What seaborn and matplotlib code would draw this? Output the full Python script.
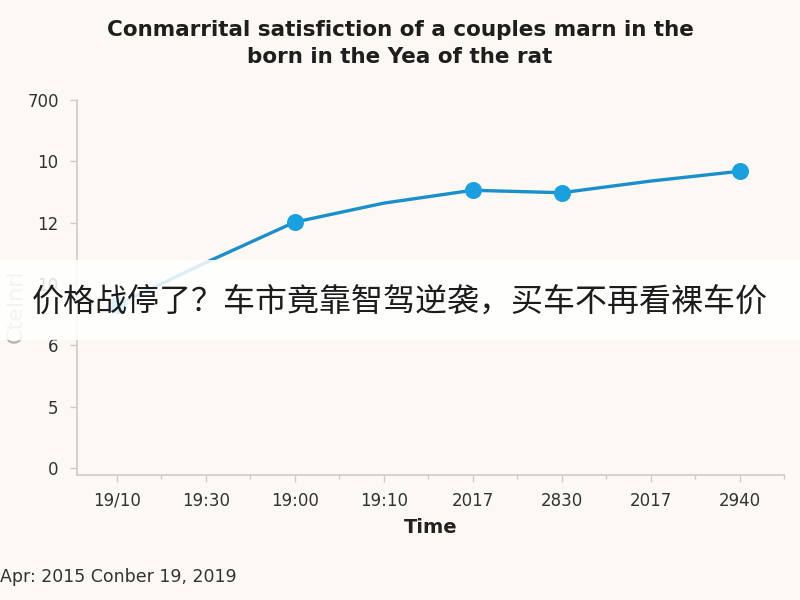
import matplotlib
matplotlib.use("Agg")
import matplotlib.pyplot as plt
import seaborn as sns
import pandas as pd
import numpy as np

# ---- data ----
x_labels = ['19/10', '19:30', '19:00', '19:10', '2017', '2830', '2017', '2940']
values = [2.66, 3.35, 4.01, 4.32, 4.53, 4.49, 4.68, 4.84]
has_marker = [True, False, True, False, True, True, False, True]
y_tick_labels = ['0', '5', '6', '10', '12', '10', '700']

title = "Conmarrital satisfiction of a couples marn in the\nborn in the Yea of the rat"
x_title = "Time"
y_title = "Ctelnrl"
footer = "Apr: 2015 Conber 19, 2019"
banner = "价格战停了？车市竟靠智驾逆袭，买车不再看裸车价"

sns.set_theme(style="white")
plt.rcParams['font.family'] = ['DejaVu Sans']

bg = '#fcf9f4'
line_c = '#1a8fcc'
mark_c = '#1aa0e0'

df = pd.DataFrame({'pos': np.arange(len(values)), 'value': values, 'marker': has_marker})

fig = plt.figure(figsize=(8, 6), dpi=100, facecolor=bg)
ax = fig.add_axes([0.096, 0.208, 0.884, 0.625])
ax.set_facecolor(bg)

sns.lineplot(data=df, x='pos', y='value', ax=ax, color=line_c, linewidth=2.4)
sns.scatterplot(data=df[df['marker']], x='pos', y='value', ax=ax, color=mark_c,
                s=150, edgecolor=mark_c, linewidth=0, zorder=5)

ax.set_xlim(-0.45, 7.4)
ax.set_ylim(-0.12, 6)
ax.set_xticks(np.arange(len(x_labels)))
ax.set_xticklabels(x_labels)
ax.set_xticks(np.arange(len(x_labels)) + 0.5, minor=True)
ax.set_yticks(np.arange(len(y_tick_labels)))
ax.set_yticklabels(y_tick_labels)

for s in ['top', 'right']:
    ax.spines[s].set_visible(False)
for s in ['left', 'bottom']:
    ax.spines[s].set_color('#cfcbc6')
    ax.spines[s].set_linewidth(1.2)

ax.tick_params(axis='both', which='major', length=5, width=1, color='#cfcbc6',
               labelsize=12, labelcolor='#333333', pad=8, left=True, bottom=True)
ax.tick_params(axis='x', which='minor', length=3, width=1, color='#cfcbc6', bottom=True)
ax.tick_params(axis='x', which='major', pad=7)

ax.set_xlabel(x_title, fontsize=14, fontweight='bold', color='#222222', labelpad=6)
ax.set_ylabel('')
fig.text(0.02, 0.49, y_title, rotation=90, fontsize=16, color='#b5b5b5',
         ha='center', va='center')

fig.text(0.5, 0.927, title, ha='center', va='center', fontsize=15.5,
         fontweight='bold', color='#1e1e1e', linespacing=1.45)
fig.text(0.0, 0.038, footer, ha='left', va='center', fontsize=12.5, color='#333333')

# banner overlay
fig.patches.append(plt.Rectangle((0, 0.433), 1, 0.134, transform=fig.transFigure,
                                 facecolor='white', alpha=0.85, edgecolor='none', zorder=10))
fig.text(0.5, 0.498, banner, ha='center', va='center', fontsize=23, color='#1c1c1c',
         family=['Noto Sans CJK SC', 'DejaVu Sans'], zorder=11)

fig.savefig('out.png', dpi=100, facecolor=bg)
